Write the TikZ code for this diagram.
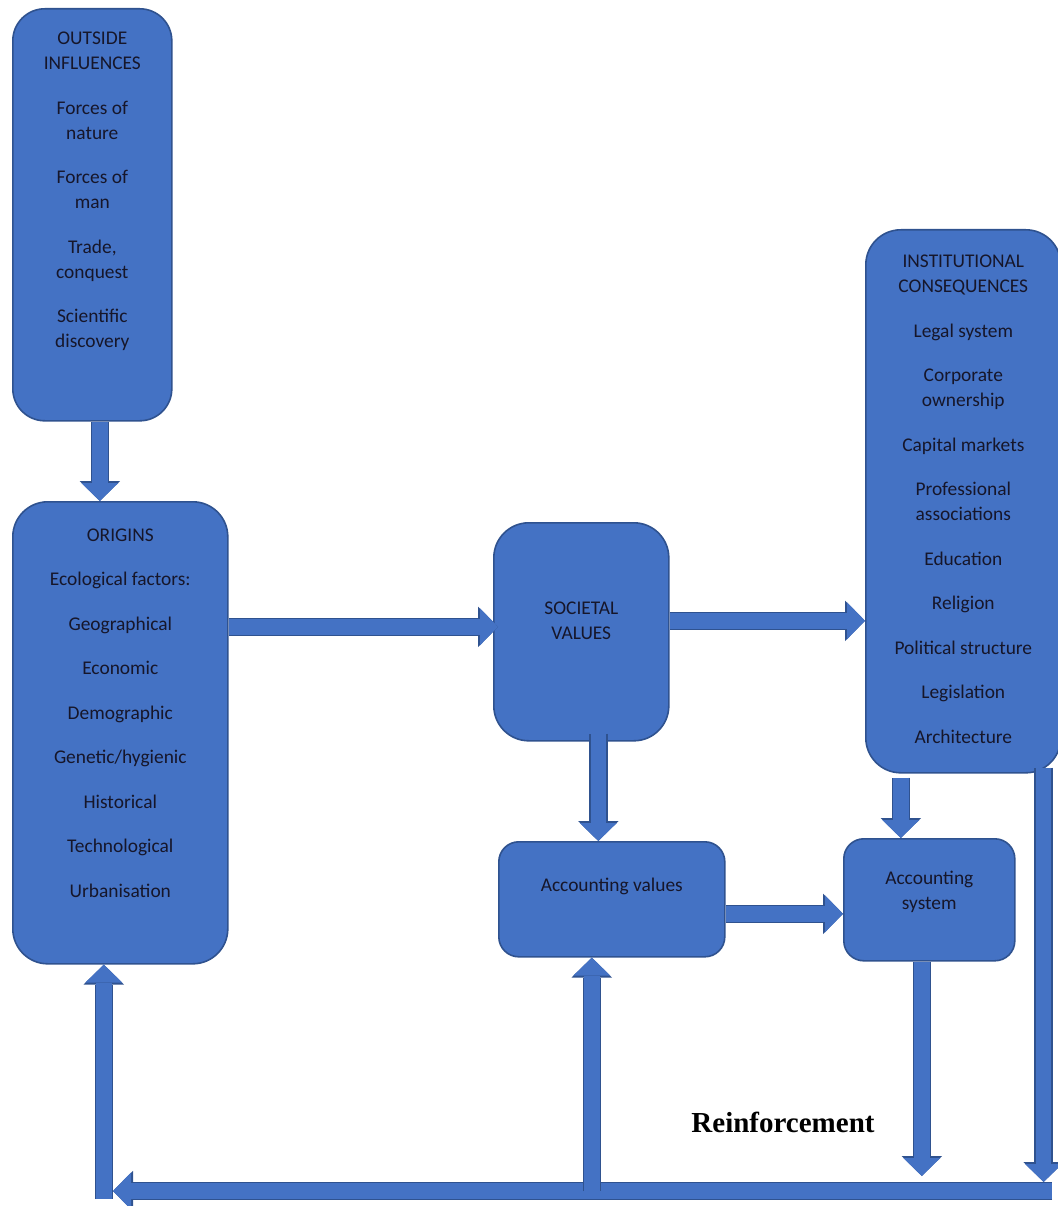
\documentclass[tikz,border=0pt]{standalone}
\usepackage{fontspec}
\setmainfont{Carlito}
\newfontfamily\reinffont{Liberation Serif}
\usetikzlibrary{arrows.meta, positioning, calc}
\definecolor{boxblue}{HTML}{4472C4}
\definecolor{edgeblue}{HTML}{2F528F}
\definecolor{inktext}{HTML}{16162A}

\begin{document}
\begin{tikzpicture}[
    x=1pt, y=-1pt,
    block/.style={rectangle, draw=edgeblue, fill=boxblue, line width=1.6pt,
                  rounded corners=32pt, anchor=north west, inner sep=0pt,
                  align=center, text=inktext,
                  font=\fontsize{19.4}{25}\selectfont},
    fat/.style={draw=boxblue, line width=15.5pt,
                -{Triangle[width=37pt, length=18pt, line width=0pt]},
                preaction={draw=edgeblue, line width=18.5pt,
                  -{Triangle[width=40.5pt, length=20pt, line width=0pt]}}},
    tag/.style={font=\reinffont\bfseries\fontsize{29}{32}\selectfont, text=black}
]
    \useasboundingbox (0,0) rectangle (1057,1206);

    % boxes
    \node[block, minimum width=159pt, minimum height=412pt, text depth=50pt] (outside) at (12,8)
        {OUTSIDE\\INFLUENCES\\[19.5pt]Forces of\\nature\\[19.5pt]Forces of\\man\\[19.5pt]Trade,\\conquest\\[19.5pt]Scientific\\discovery};
    \node[block, minimum width=215pt, minimum height=462pt, text depth=39.5pt, rounded corners=35pt] (origins) at (12,501)
        {ORIGINS\\[19.5pt]Ecological factors:\\[19.5pt]Geographical\\[19.5pt]Economic\\[19.5pt]Demographic\\[19.5pt]Genetic/hygienic\\[19.5pt]Historical\\[19.5pt]Technological\\[19.5pt]Urbanisation};
    \node[block, minimum width=175pt, minimum height=218pt, text depth=22.5pt, rounded corners=35pt] (societal) at (493,522)
        {SOCIETAL\\VALUES};
    \node[block, minimum width=195pt, minimum height=543pt, text depth=4.5pt, rounded corners=35pt] (institutional) at (865,229)
        {INSTITUTIONAL\\CONSEQUENCES\\[19.5pt]Legal system\\[19.5pt]Corporate\\ownership\\[19.5pt]Capital markets\\[19.5pt]Professional\\associations\\[19.5pt]Education\\[19.5pt]Religion\\[19.5pt]Political structure\\[19.5pt]Legislation\\[19.5pt]Architecture};
    \node[block, minimum width=226pt, minimum height=115pt, text depth=28.5pt, rounded corners=20pt] (accvalues) at (498,841)
        {Accounting values};
    \node[block, minimum width=171pt, minimum height=122pt, text depth=19.5pt, rounded corners=20pt] (accsystem) at (843,838)
        {Accounting\\system};

    \node[tag] (reinf) at (783,1122) {Reinforcement};

    % forward arrows
    \coordinate (a1) at ([xshift=7.5pt]outside.south);
    \draw[fat] (a1) -- (a1 |- origins.north);
    \coordinate (a2) at ([yshift=106pt]origins.east);
    \draw[fat] (a2) -- ([xshift=5pt]a2 -| societal.west);
    \coordinate (a3) at ([yshift=11pt]societal.east);
    \draw[fat] (a3) -- (a3 -| institutional.west);
    \coordinate (a4) at ([xshift=17pt, yshift=8pt]societal.south);
    \draw[fat] (a4) -- (a4 |- accvalues.north);
    \coordinate (a5) at ([yshift=-14.5pt]accvalues.east);
    \draw[fat] (a5) -- (a5 -| accsystem.west);
    \coordinate (a6) at ([xshift=-62.5pt, yshift=-4pt]institutional.south);
    \draw[fat] (a6) -- (a6 |- accsystem.north);

    % reinforcement loop
    \coordinate (barR) at (1052,1191);
    \coordinate (barL) at (113,1191);
    \coordinate (bartop) at (1052,1182);
    \coordinate (barfoot) at (0,1199);
    \draw[fat] (barR) -- (barL);
    \coordinate (a7) at ([xshift=-7.5pt]accsystem.south);
    \draw[fat] (a7) -- ([yshift=6pt]a7 |- bartop);
    \coordinate (a8) at ([xshift=-18pt, yshift=6pt]institutional.south east);
    \draw[fat] (a8) -- (a8 |- bartop);
    \coordinate (a10) at ([xshift=-16.5pt]origins.south |- barfoot);
    \draw[fat] (a10) -- (a10 |- origins.south);
    \coordinate (a11) at ([xshift=-20pt]accvalues.south |- barR);
    \draw[fat] (a11) -- (a11 |- accvalues.south);
\end{tikzpicture}
\end{document}
